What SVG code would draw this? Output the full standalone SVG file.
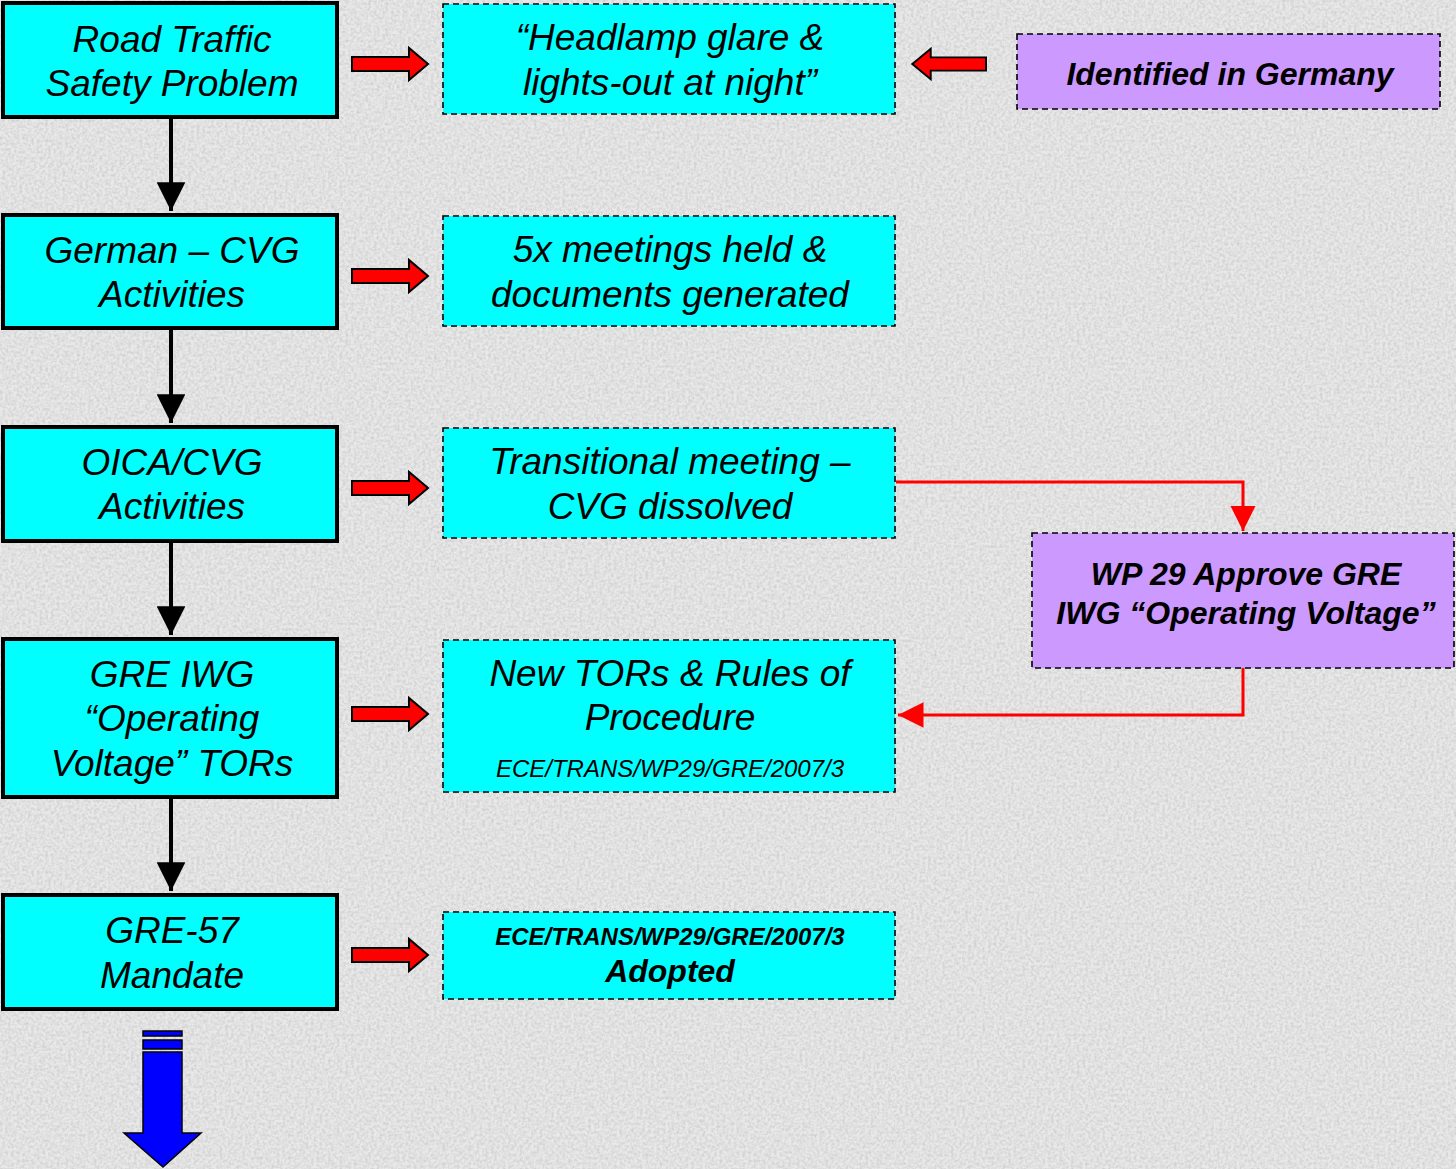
<svg xmlns="http://www.w3.org/2000/svg" width="1456" height="1169" viewBox="0 0 1456 1169">
<defs>
<style>
.lb{fill:#00ffff;stroke:#000;stroke-width:4}
.rb{fill:#00ffff;stroke:#000;stroke-width:1.6;stroke-dasharray:6 4}
.pb{fill:#cc99ff;stroke:#000;stroke-width:1.6;stroke-dasharray:6 4}
.t{font-family:"Liberation Sans",Arial,sans-serif;font-style:italic;font-size:37px;fill:#000;text-anchor:middle}
.tb{font-family:"Liberation Sans",Arial,sans-serif;font-style:italic;font-weight:bold;fill:#000;text-anchor:middle}
.ra{fill:#ff0000;stroke:#000;stroke-width:2}
.bl{stroke:#000;stroke-width:4;fill:none}
.rl{stroke:#ff0000;stroke-width:3;fill:none}
</style>
<filter id="grain" x="0" y="0" width="100%" height="100%">
<feTurbulence type="fractalNoise" baseFrequency="0.35" numOctaves="3" seed="4" result="n"/>
<feColorMatrix in="n" type="matrix" values="0 0 0 0 0.5  0 0 0 0 0.5  0 0 0 0 0.5  0 0 0 1.8 -0.6" result="g"/>
<feComposite in="g" in2="SourceGraphic" operator="in"/>
</filter>
<marker id="bh" viewBox="0 0 10 10" refX="10" refY="5" markerWidth="7.2" markerHeight="7.2" orient="auto" markerUnits="strokeWidth"><path d="M0,0 L10,5 L0,10 z" fill="#000"/></marker>
<marker id="rh" viewBox="0 0 10 10" refX="10" refY="5" markerWidth="8.5" markerHeight="8.5" orient="auto" markerUnits="strokeWidth"><path d="M0,0 L10,5 L0,10 z" fill="#ff0000"/></marker>
<path id="rarrow" d="M0,-7 L57,-7 L57,-16 L76,0 L57,16 L57,7 L0,7 z"/>
</defs>
<rect x="0" y="0" width="1456" height="1169" fill="#e9e9e9"/>
<rect x="0" y="0" width="1456" height="1169" fill="#ffffff" filter="url(#grain)" opacity="0.6"/>

<g id="connectors">
<line class="bl" x1="171" y1="117" x2="171" y2="211" marker-end="url(#bh)"/>
<line class="bl" x1="171" y1="328" x2="171" y2="423" marker-end="url(#bh)"/>
<line class="bl" x1="171" y1="541" x2="171" y2="635" marker-end="url(#bh)"/>
<line class="bl" x1="171" y1="797" x2="171" y2="891" marker-end="url(#bh)"/>
<use href="#rarrow" class="ra" transform="translate(352,64)"/>
<use href="#rarrow" class="ra" transform="translate(352,276)"/>
<use href="#rarrow" class="ra" transform="translate(352,488)"/>
<use href="#rarrow" class="ra" transform="translate(352,714)"/>
<use href="#rarrow" class="ra" transform="translate(352,955)"/>
<use href="#rarrow" class="ra" transform="translate(986,64) scale(-0.97,0.95)"/>
<polyline class="rl" points="896,482 1243,482 1243,531" marker-end="url(#rh)"/>
<polyline class="rl" points="1243,668 1243,715 898,715" marker-end="url(#rh)"/>
<g id="blue-arrow" fill="#0000ff" stroke="#000" stroke-width="1.5">
<rect x="143" y="1031" width="39" height="5"/>
<rect x="143" y="1040" width="39" height="9"/>
<path d="M143,1052 L182,1052 L182,1133 L201,1133 L163,1167 L124,1133 L143,1133 z"/>
</g>
</g>

<g id="n-road"><rect class="lb" x="3" y="3" width="334" height="114"/>
<text class="t" x="172" y="52">Road Traffic</text><text class="t" x="172" y="96">Safety Problem</text></g>
<g id="n-german"><rect class="lb" x="3" y="215" width="334" height="113"/>
<text class="t" x="172" y="263">German – CVG</text><text class="t" x="172" y="307">Activities</text></g>
<g id="n-oica"><rect class="lb" x="3" y="427" width="334" height="114"/>
<text class="t" x="172" y="475">OICA/CVG</text><text class="t" x="172" y="519">Activities</text></g>
<g id="n-iwg"><rect class="lb" x="3" y="639" width="334" height="158"/>
<text class="t" x="172" y="687">GRE IWG</text><text class="t" x="172" y="731">“Operating</text><text class="t" x="172" y="776">Voltage” TORs</text></g>
<g id="n-gre57"><rect class="lb" x="3" y="895" width="334" height="114"/>
<text class="t" x="172" y="943">GRE-57</text><text class="t" x="172" y="988">Mandate</text></g>

<g id="n-headlamp"><rect class="rb" x="443" y="4" width="452" height="110"/>
<text class="t" x="670" y="50">“Headlamp glare &amp;</text><text class="t" x="670" y="95">lights-out at night”</text></g>
<g id="n-meetings"><rect class="rb" x="443" y="216" width="452" height="110"/>
<text class="t" x="670" y="262">5x meetings held &amp;</text><text class="t" x="670" y="307">documents generated</text></g>
<g id="n-transitional"><rect class="rb" x="443" y="428" width="452" height="110"/>
<text class="t" x="670" y="474">Transitional meeting –</text><text class="t" x="670" y="519">CVG dissolved</text></g>
<g id="n-tors"><rect class="rb" x="443" y="640" width="452" height="152"/>
<text class="t" x="670" y="686">New TORs &amp; Rules of</text><text class="t" x="670" y="730">Procedure</text>
<text class="t" x="670" y="777" style="font-size:24px">ECE/TRANS/WP29/GRE/2007/3</text></g>
<g id="n-adopted"><rect class="rb" x="443" y="912" width="452" height="87"/>
<text class="tb" x="670" y="945" style="font-size:24px">ECE/TRANS/WP29/GRE/2007/3</text>
<text class="tb" x="670" y="982" style="font-size:32px">Adopted</text></g>

<g id="n-germany"><rect class="pb" x="1017" y="34" width="423" height="75"/>
<text class="tb" x="1230" y="85" style="font-size:32px">Identified in Germany</text></g>
<g id="n-wp29"><rect class="pb" x="1032" y="533" width="422" height="135"/>
<text class="tb" x="1246" y="585" style="font-size:32px">WP 29 Approve GRE</text>
<text class="tb" x="1246" y="624" style="font-size:32px">IWG “Operating Voltage”</text></g>
</svg>
